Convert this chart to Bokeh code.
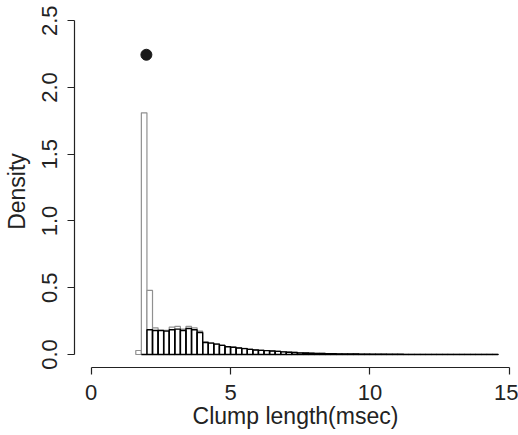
from bokeh.plotting import figure
from bokeh.models import Range1d, LinearAxis, FixedTicker, ColumnDataSource
from bokeh.embed import file_html
from bokeh.resources import INLINE

# Histogram break points (bin width 0.2, from 1.6 to 14.6)
bin_starts = [round(1.6 + 0.2 * i, 1) for i in range(65)]
bin_width = 0.2

# Light (grey-outlined) histogram densities
grey_density = [
    0.03, 1.81, 0.48, 0.20, 0.18, 0.18, 0.205, 0.21, 0.19, 0.21, 0.20, 0.175,
    0.095, 0.088, 0.080, 0.070, 0.060, 0.056, 0.050, 0.046, 0.040, 0.035,
    0.033, 0.030, 0.027, 0.025, 0.021, 0.018, 0.017, 0.013, 0.012, 0.010,
    0.009, 0.008, 0.007, 0.006, 0.006, 0.005, 0.005, 0.006, 0.004, 0.004,
    0.003, 0.003, 0.003, 0.002, 0.002, 0.002, 0.002, 0.002, 0.002, 0.001,
    0.002, 0.001, 0.001, 0.002, 0.001, 0.001, 0.001, 0.001, 0.001, 0.001,
    0.001, 0.001, 0.001,
]

# Dark (black-outlined) histogram densities (None = no bar)
black_density = [
    None, 0.0, 0.185, 0.18, 0.18, 0.175, 0.185, 0.19, 0.18, 0.195, 0.185, 0.165,
    0.090, 0.085, 0.078, 0.068, 0.058, 0.054, 0.049, 0.044, 0.038, 0.034,
    0.031, 0.029, 0.026, 0.023, 0.020, 0.017, 0.015, 0.012, 0.011, 0.009,
    0.008, 0.007, 0.006, 0.006, 0.005, 0.005, 0.004, 0.004, 0.003, 0.003,
    0.003, 0.002, 0.002, 0.002, 0.002, 0.002, 0.001, 0.001, 0.001, 0.001,
    0.001, 0.001, 0.001, 0.001, 0.001, 0.001, 0.001, 0.001, 0.001, 0.001,
    0.001, 0.001, 0.001,
]

# Single highlighted point
point_x = [1.98]
point_y = [2.245]

x_ticks = [0, 5, 10, 15]
y_ticks = [0.0, 0.5, 1.0, 1.5, 2.0, 2.5]
y_tick_labels = {0.0: "0.0", 0.5: "0.5", 1.0: "1.0", 1.5: "1.5", 2.0: "2.0", 2.5: "2.5"}

FONT = "Liberation Sans"
FS = "22px"
FS_LABEL = "23px"

p = figure(width=518, height=435, output_backend="svg", toolbar_location=None,
           x_range=Range1d(-0.599, 15.26), y_range=Range1d(-0.0974, 2.539),
           x_axis_type=None, y_axis_type=None,
           min_border_left=74, min_border_right=2, min_border_top=15,
           min_border_bottom=68)
p.outline_line_color = None
p.background_fill_color = "white"

grey_src = ColumnDataSource(dict(
    left=bin_starts, right=[b + bin_width for b in bin_starts],
    top=grey_density, bottom=[0] * len(bin_starts)))
p.quad(left="left", right="right", top="top", bottom="bottom", source=grey_src,
       fill_color="white", line_color="#909090", line_width=1.2)

bl = [(b, d) for b, d in zip(bin_starts, black_density) if d is not None]
black_src = ColumnDataSource(dict(
    left=[b for b, _ in bl], right=[b + bin_width for b, _ in bl],
    top=[d for _, d in bl], bottom=[0] * len(bl)))
p.quad(left="left", right="right", top="top", bottom="bottom", source=black_src,
       fill_alpha=0, line_color="black", line_width=1.4)

p.scatter(point_x, point_y, size=11, color="#1a1a1a")

xaxis = LinearAxis(ticker=FixedTicker(ticks=x_ticks), bounds=(0, 15),
                   axis_label="Clump length(msec)")
yaxis = LinearAxis(ticker=FixedTicker(ticks=y_ticks), bounds=(0, 2.5),
                   axis_label="Density")
yaxis.major_label_overrides = y_tick_labels
for ax in (xaxis, yaxis):
    ax.major_tick_out = 7
    ax.major_tick_in = 0
    ax.minor_tick_out = 0
    ax.minor_tick_in = 0
    ax.axis_line_color = "#222222"
    ax.major_tick_line_color = "#222222"
    ax.axis_line_width = 1.2
    ax.major_tick_line_width = 1.2
    ax.major_label_text_font = FONT
    ax.major_label_text_font_size = FS
    ax.major_label_text_color = "#222222"
    ax.axis_label_text_font = FONT
    ax.axis_label_text_font_size = FS_LABEL
    ax.axis_label_text_font_style = "normal"
    ax.axis_label_text_color = "#222222"
yaxis.major_label_orientation = "parallel"
xaxis.major_label_standoff = 10
xaxis.axis_label_standoff = 0
yaxis.major_label_standoff = 10
yaxis.axis_label_standoff = 10
p.add_layout(xaxis, "below")
p.add_layout(yaxis, "left")

open("out.html", "w").write(file_html(p, INLINE))
